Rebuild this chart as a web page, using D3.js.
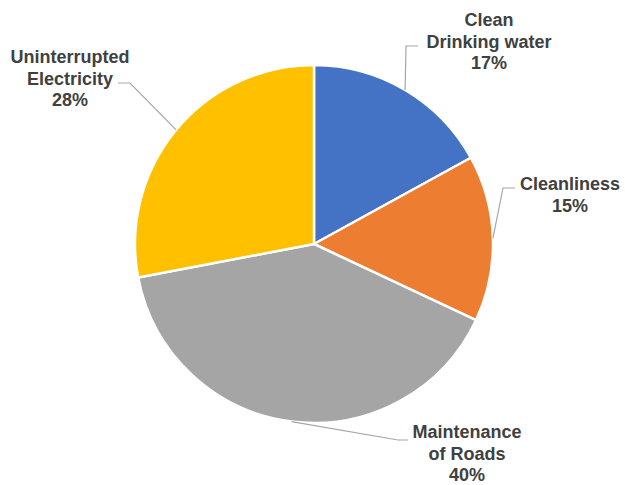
<!DOCTYPE html>
<html>
<head>
<meta charset="utf-8">
<script src="https://cdn.jsdelivr.net/npm/d3@7"></script>
<style>
  html, body { margin: 0; padding: 0; background: #fff; }
  svg { display: block; }
  text { font-family: "Liberation Sans", Arial, sans-serif; font-weight: bold; font-size: 18px; fill: #404040; }
</style>
</head>
<body>
<svg id="chart" width="625" height="485"></svg>
<script>
// Survey shares by civic priority
const categories = ["Clean Drinking water", "Cleanliness", "Maintenance of Roads", "Uninterrupted Electricity"];
const labelLines = [["Clean", "Drinking water"], ["Cleanliness"], ["Maintenance", "of Roads"], ["Uninterrupted", "Electricity"]];
const values = [17, 15, 40, 28];
const colors = ["#4472C4", "#ED7D31", "#A5A5A5", "#FFC000"];

const W = 625, H = 485;
const cx = 314, cy = 244, R = 179;

// Label placement: elbow of the leader line, end of its horizontal run, text anchor centre and first baseline
const labelLayout = [
  { elbow: [406, 46], end: [418, 46], tx: 489, ty: 26 },
  { elbow: [503, 188], end: [515, 188], tx: 570, ty: 190 },
  { elbow: [398, 440], end: [408, 440], tx: 467, ty: 438 },
  { elbow: [130, 83], end: [118, 83], tx: 70, ty: 63 }
];
const lineStep = 21.5;

const svg = d3.select("#chart");
const g = svg.append("g").attr("transform", `translate(${cx},${cy})`);

const pie = d3.pie().sort(null).value(d => d)(values);
const arc = d3.arc().innerRadius(0).outerRadius(R);

g.selectAll("path.slice")
  .data(pie)
  .join("path")
  .attr("class", "slice")
  .attr("d", arc)
  .attr("fill", (d, i) => colors[i])
  .attr("stroke", "#fff")
  .attr("stroke-width", 2.5)
  .attr("stroke-linejoin", "round");

const total = d3.sum(values);
const fmt = v => Math.round(v / total * 100) + "%";

// Leader lines from the rim at each slice's mid-angle
pie.forEach((d, i) => {
  const a = (d.startAngle + d.endAngle) / 2;
  const x0 = cx + R * Math.sin(a);
  const y0 = cy - R * Math.cos(a);
  const L = labelLayout[i];
  svg.append("polyline")
    .attr("points", [[x0, y0], L.elbow, L.end].map(p => p.join(",")).join(" "))
    .attr("fill", "none")
    .attr("stroke", "#A6A6A6")
    .attr("stroke-width", 1.2);

  const t = svg.append("text")
    .attr("text-anchor", "middle")
    .attr("x", L.tx)
    .attr("y", L.ty);
  const lines = labelLines[i].concat([fmt(values[i])]);
  lines.forEach((s, k) => {
    t.append("tspan").attr("x", L.tx).attr("y", L.ty + k * lineStep).text(s);
  });
});
</script>
</body>
</html>
